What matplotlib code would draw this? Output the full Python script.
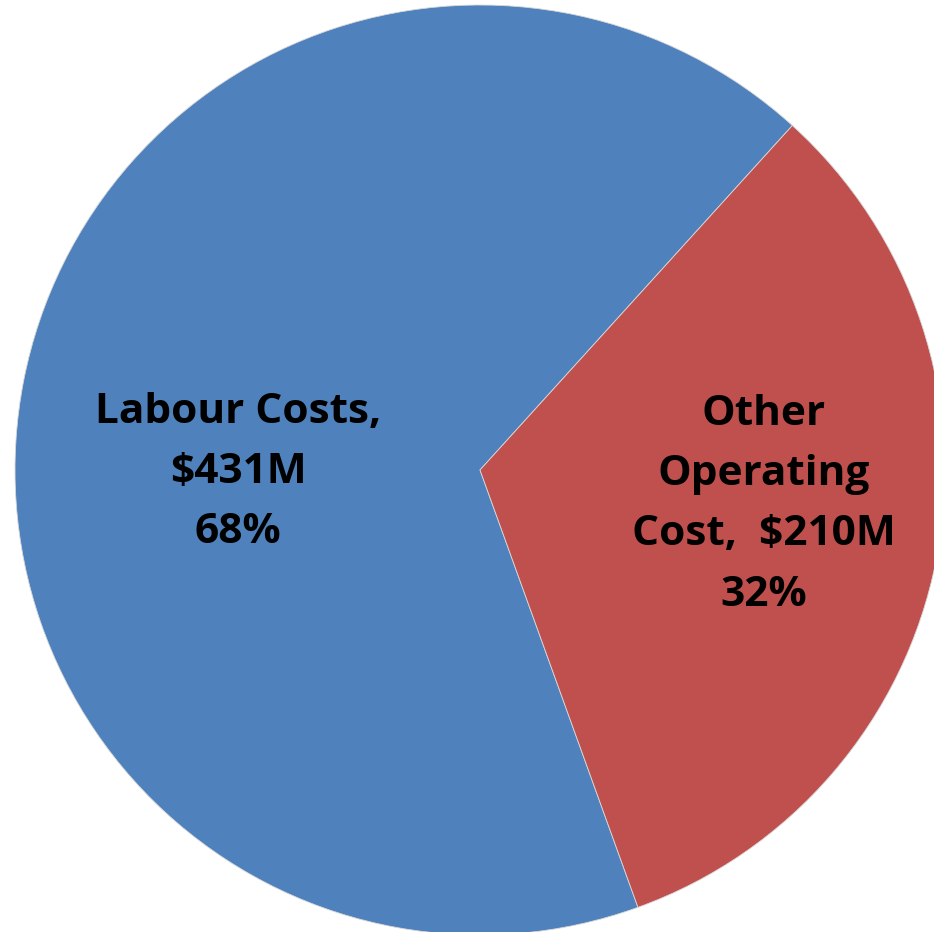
import numpy as np
import matplotlib.pyplot as plt

categories = ['Labour Costs,', 'Other\nOperating\nCost, ']
values = [431, 210]          # $M
pct_labels = [68, 32]        # percentages as printed on the chart
colors = ['#4F81BD', '#C0504D']
label_pos = [(-0.52, -0.005), (0.61, -0.075)]

W, H = 934, 932
cx, cy, r = 480, 470, 465    # pie centre and radius in pixels

fig = plt.figure(figsize=(W / 100, H / 100), dpi=100)
ax = fig.add_axes([0, 0, 1, 1])

# red slice ends at about 47.8 deg, blue wedge starts there going round
start = 47.8
wedges, _ = ax.pie(values, colors=colors, startangle=start, counterclock=True,
                   radius=1.0, center=(0, 0),
                   wedgeprops=dict(linewidth=0.6, edgecolor='#d8d8d8'))

for cat, v, pct, (x, y) in zip(categories, values, pct_labels, label_pos):
    sep = '\n' if cat.startswith('Labour') else ' '
    txt = f"{cat}{sep}${v}M\n{pct}%"
    ax.text(x, y, txt, ha='center', va='center', fontsize=30.5,
            fontweight='bold', family='Open Sans', linespacing=1.62,
            color='black')

ax.set_xlim(-cx / r, (W - cx) / r)
ax.set_ylim(-(H - cy) / r, cy / r)
ax.set_aspect('auto')
ax.axis('off')

fig.savefig('out.png', dpi=100)
